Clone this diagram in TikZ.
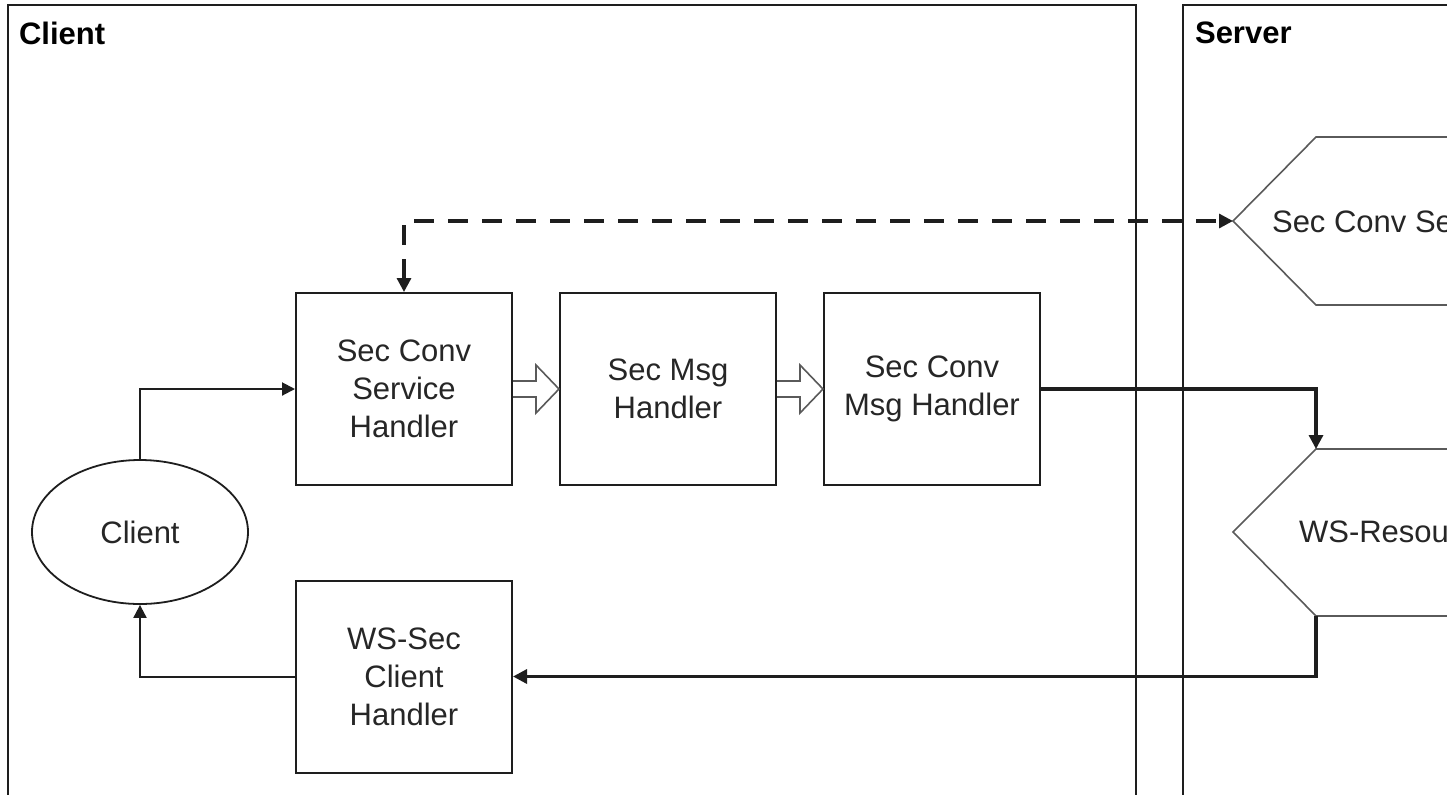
\documentclass[tikz,border=0pt]{standalone}
\usepackage{fontspec}
\setmainfont{Liberation Sans}
\usetikzlibrary{arrows.meta,calc,shapes.geometric}
\definecolor{txt}{RGB}{38,38,38}
\definecolor{ln}{RGB}{30,30,30}
\definecolor{hexc}{RGB}{90,90,90}
\begin{document}
\begin{tikzpicture}[x=0.5pt,y=-0.5pt,
  every node/.style={font=\fontsize{15.5}{19}\selectfont, text=txt},
  hbox/.style={draw=ln, line width=1pt, minimum width=108pt, minimum height=96pt, inner sep=0pt, align=center},
  ttl/.style={font=\bfseries\fontsize{15.5}{19}\selectfont, anchor=west, text=black},
  frame/.style={draw=ln, line width=1pt},
  conn/.style={draw=ln, line width=1pt, -{Triangle[length=6.5pt,width=6.5pt]}},
  thickconn/.style={draw=ln, line width=1.6pt, -{Triangle[length=7pt,width=7pt]}},
  dashconn/.style={draw=ln, line width=1.6pt, dash pattern=on 10pt off 7pt, {Triangle[length=7pt,width=7pt]}-{Triangle[length=7pt,width=7pt]}},
  hexa/.style={draw=hexc, line width=0.8pt},
  hollow/.style={draw=hexc, line width=0.8pt, fill=white}
]
\useasboundingbox (0,0) rectangle (1447,794);
\fill[white] (0,0) rectangle (1447,794);
\clip (0,0) rectangle (1447,794);
% frames
\draw[frame] (8,830) -- (8,5) -- (1136,5) -- (1136,830);
\draw[frame] (1183,830) -- (1183,5) -- (1500,5);
\node[ttl] (ctitle) at (12,33) {Client};
\node[ttl] (stitle) at (1188,33) {Server};
% server shapes
\coordinate (scstip) at (1233,221);
\draw[hexa] (1500,137) -- (1316,137) -- (scstip) -- (1316,305) -- (1500,305);
\node[anchor=west] (scs) at (1265,221) {Sec Conv Service};
\coordinate (wsrtip) at (1233,532);
\coordinate (wsrtop) at (1316,449);
\coordinate (wsrbot) at (1316,616);
\draw[hexa] (1500,449) -- (wsrtop) -- (wsrtip) -- (wsrbot) -- (1500,616);
\node[anchor=west] (wsr) at (1292,532) {WS-Resource};
% client nodes
\node[hbox] (scsh) at (404,389) {Sec Conv\\Service\\Handler};
\node[hbox] (smh) at (668,389) {Sec Msg\\Handler};
\node[hbox] (scmh) at (932,389) {Sec Conv\\Msg Handler};
\node[hbox] (wsch) at (404,676.5) {WS-Sec\\Client\\Handler};
\node[draw=ln, line width=0.9pt, ellipse, minimum width=108pt, minimum height=72pt, inner sep=0pt] (cl) at (140,532) {Client};
% connectors
\draw[conn] (cl.north) |- (scsh.west);
\draw[conn] (wsch.west) -| (cl.south);
\draw[dashconn] (scsh.north) |- (scstip);
\draw[thickconn] (scmh.east) -| (wsrtop);
\draw[thickconn] (wsrbot) |- (wsch.east);
% hollow arrows
\draw[hollow] ($(scsh.east)+(0,-8)$) -- ($(smh.west)+(-23,-8)$) -- ($(smh.west)+(-23,-24)$) -- (smh.west) -- ($(smh.west)+(-23,24)$) -- ($(smh.west)+(-23,8)$) -- ($(scsh.east)+(0,8)$);
\draw[hollow] ($(smh.east)+(0,-8)$) -- ($(scmh.west)+(-23,-8)$) -- ($(scmh.west)+(-23,-24)$) -- (scmh.west) -- ($(scmh.west)+(-23,24)$) -- ($(scmh.west)+(-23,8)$) -- ($(smh.east)+(0,8)$);
\end{tikzpicture}
\end{document}
